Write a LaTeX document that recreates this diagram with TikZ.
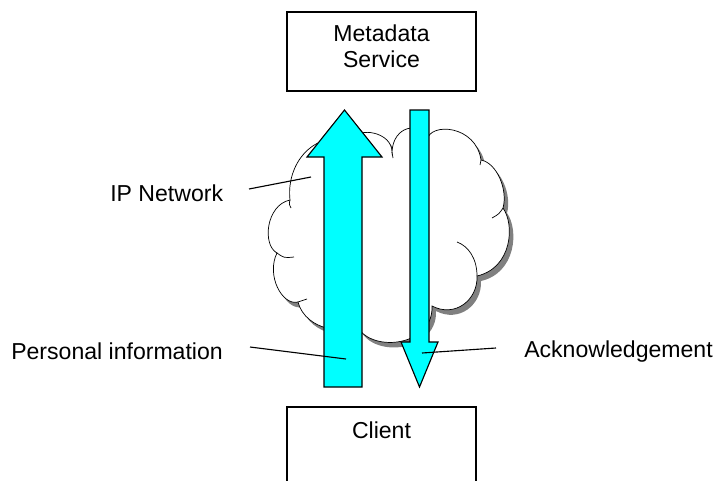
\documentclass[tikz,border=0pt]{standalone}
\usepackage{fontspec}
\setmainfont{Liberation Sans}
\usepackage{tikz}
\definecolor{arrowcyan}{RGB}{0,255,255}
\definecolor{shadowgray}{RGB}{128,128,128}

\newcommand{\cloudpath}{(290,200) .. controls (286,165) and (312,130) .. (352,140)
 .. controls (358,126) and (392,132) .. (392,152)
 .. controls (393,126) and (420,120) .. (427,140)
 .. controls (430,122) and (476,125) .. (481,160)
 .. controls (497,163) and (508,190) .. (503,208)
 .. controls (515,225) and (512,268) .. (477,276)
 .. controls (478,300) and (455,318) .. (432,306)
 .. controls (434,352) and (352,355) .. (354,312)
 .. controls (350,340) and (305,330) .. (298,302)
 .. controls (282,306) and (266,275) .. (277,253)
 .. controls (262,245) and (266,205) .. (290,200) -- cycle}

\begin{document}
\begin{tikzpicture}[x=0.025cm,y=-0.025cm,
  box/.style={draw,line width=0.9pt,minimum width=4.725cm,minimum height=1.975cm,inner sep=0pt},
  lbl/.style={inner sep=0pt,font=\fontsize{16.4}{18.5}\selectfont},
  bigarrow/.style={draw,fill=arrowcyan,line width=0.8pt,line join=miter},
  tick/.style={line width=0.5pt},
  callout/.style={line width=0.8pt}]
\clip (0,0) rectangle (714,480);

\fill[shadowgray] [shift={(4,5)}] \cloudpath;
\draw[fill=white,line width=0.5pt] \cloudpath;
\draw[tick] (290,200) .. controls (289,204) .. (291,208);
\draw[tick] (277,253) .. controls (284,258) .. (294,257);
\draw[tick] (298,302) .. controls (302,301) .. (307,299);
\draw[tick] (392,152) .. controls (392,155) .. (393,158);
\draw[tick] (481,160) .. controls (481,162) .. (480,165);
\draw[tick] (503,208) .. controls (499,214) .. (492,218);
\draw[tick] (477,276) .. controls (477,258) and (468,246) .. (457,242);

\draw[bigarrow] (324,387) -- (324,157) -- (307,157) -- (344.5,110) -- (382,157) -- (362,157) -- (362,387) -- cycle;
\draw[bigarrow] (410,110) -- (429,110) -- (429,342) -- (438,342) -- (419.5,387) -- (401,342) -- (410,342) -- cycle;

\node[box] (meta) at (381.5,51.5) {};
\node[lbl,align=center] (metatext) at (381.5,46.5) {Metadata\\Service};
\node[box] (client) at (381.5,446.5) {};
\node[lbl] (clienttext) at (381.5,430) {Client};

\node[lbl,anchor=base west] (ipnet) at (110,201) {IP Network};
\node[lbl,anchor=base west] (persinfo) at (11,359) {Personal information};
\node[lbl,anchor=base west] (ack) at (524,357) {Acknowledgement};

\coordinate (ipA) at (249,189);
\coordinate (ipB) at (311,177);
\coordinate (persA) at (250,347);
\coordinate (persB) at (346,359);
\coordinate (ackA) at (496,348);
\coordinate (ackB) at (422,353);
\draw[callout] (ipA) -- (ipB);
\draw[callout] (persA) -- (persB);
\draw[callout] (ackA) -- (ackB);
\end{tikzpicture}
\end{document}
